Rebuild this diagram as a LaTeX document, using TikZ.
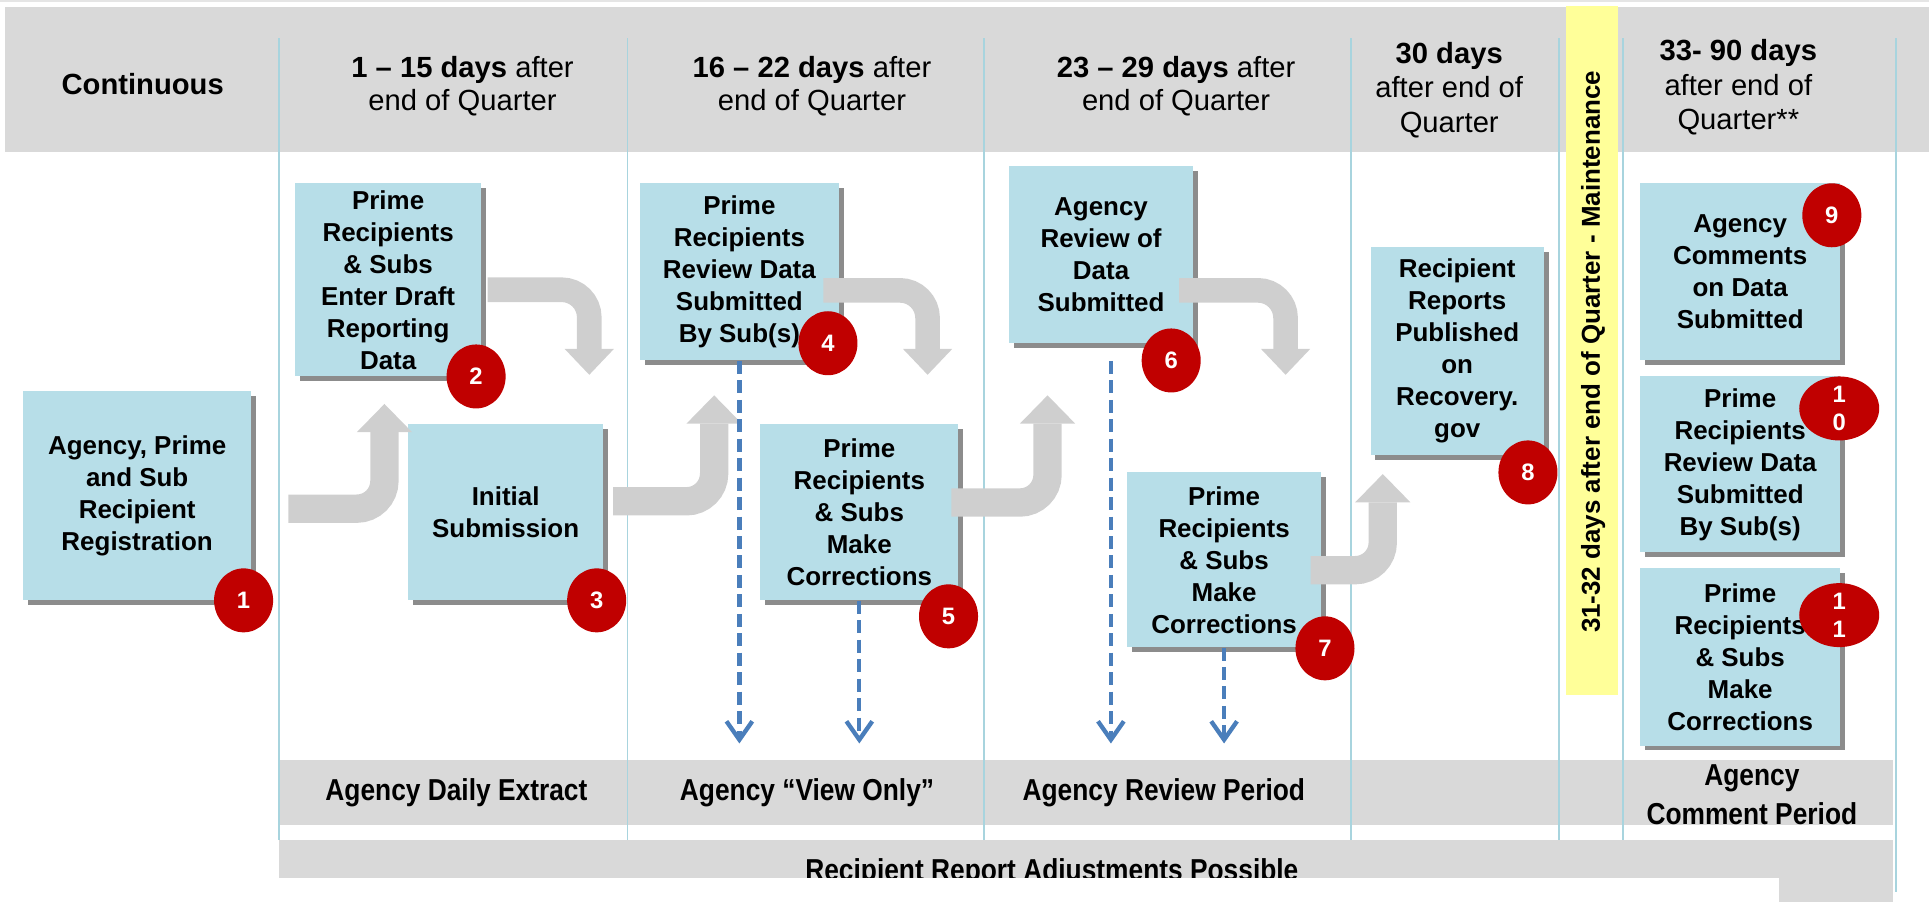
\documentclass[tikz,border=0pt]{standalone}
\usepackage{fontspec}
\setmainfont{Liberation Sans}
\newfontfamily\narrowsans{Liberation Sans}[FakeStretch=0.87]
\usetikzlibrary{arrows.meta,shapes.geometric,shadows}
\definecolor{headgray}{HTML}{D9D9D9}
\definecolor{boxblue}{HTML}{B7DEE8}
\definecolor{laneline}{HTML}{A8D4DE}
\definecolor{arrowgray}{HTML}{CFCFCF}
\definecolor{dashblue}{HTML}{4A7EBB}
\definecolor{numred}{HTML}{C00000}
\definecolor{maintyellow}{HTML}{FFFF99}

\begin{document}
\begin{tikzpicture}[
	stagebox/.style={fill=boxblue, align=center, inner sep=0pt, font=\bfseries\fontsize{12}{14.8}\selectfont, drop shadow={shadow xshift=0.08cm, shadow yshift=-0.08cm, fill=black!45, opacity=1}},
	numdot/.style={ellipse, fill=numred, text=white, align=center, inner sep=0pt, minimum width=0.96cm, minimum height=1.04cm, font=\bfseries\fontsize{11}{13}\selectfont},
	headtext/.style={align=center, font=\fontsize{13.5}{15}\selectfont},
	bandtext/.style={align=center, font=\narrowsans\bfseries\fontsize{14}{17.6}\selectfont},
	uparrow/.style={draw=arrowgray, line width=0.46cm, rounded corners=0.45cm, -{Triangle[width=0.9cm,length=0.46cm,line width=0pt]}},
	downarrow/.style={draw=arrowgray, line width=0.4cm, rounded corners=0.45cm, -{Triangle[width=0.8cm,length=0.42cm,line width=0pt]}},
	viewarrow/.style={draw=dashblue, line width=2pt, dash pattern=on 6pt off 3pt, -{Straight Barb[length=0.3cm,width=0.42cm]}}
	]
		\useasboundingbox (0,0) rectangle (31.36,14.66);
		
		\fill[black!10] (0,14.62) rectangle (31.36,14.66);
		\fill[headgray] (0.08,12.19) rectangle (31.36,14.55);
		\fill[headgray] (4.54,1.24) rectangle (30.78,2.30);
		\fill[maintyellow] (25.46,3.36) rectangle (26.30,14.56);
		
		\draw[laneline, line width=0.8pt] (4.54,14.04) -- (4.54,1.0);
		\draw[laneline, line width=0.8pt] (10.2,14.04) -- (10.2,1.0);
		\draw[laneline, line width=0.8pt] (16.0,14.04) -- (16.0,1.0);
		\draw[laneline, line width=0.8pt] (21.96,14.04) -- (21.96,1.0);
		\draw[laneline, line width=0.8pt] (25.34,14.04) -- (25.34,1.0);
		\draw[laneline, line width=0.8pt] (26.38,14.04) -- (26.38,1.0);
		\draw[laneline, line width=0.8pt] (30.82,14.04) -- (30.82,0.16);
		
		\fill[headgray] (4.54,0) rectangle (30.78,1.0);
		\node[bandtext, anchor=base] at (17.1,0.35) (adjust) {Recipient Report Adjustments Possible};
		\fill[white] (0,0) rectangle (28.92,0.38);
		
		\node[headtext, font=\bfseries\fontsize{13.5}{15}\selectfont] at (2.32,13.30) (hcont) {Continuous};
		\node[headtext] at (7.52,13.26) (h1) {\textbf{1 – 15 days} after\\end of Quarter};
		\node[headtext] at (13.2,13.26) (h2) {\textbf{16 – 22 days} after\\end of Quarter};
		\node[headtext] at (19.12,13.26) (h3) {\textbf{23 – 29 days} after\\end of Quarter};
		\node[headtext, font=\fontsize{13.5}{16}\selectfont] at (23.56,13.2) (h4) {\textbf{30 days}\\after end of\\Quarter};
		\node[headtext, font=\fontsize{13.5}{16}\selectfont] at (28.26,13.24) (h5) {\textbf{33- 90 days}\\after end of\\Quarter**};
		\node[rotate=90, font=\bfseries\fontsize{12}{14}\selectfont] at (25.9,8.94) (maint) {31-32 days after end of Quarter - Maintenance};
		
		\node[bandtext] at (7.42,1.78) (lbdaily) {Agency Daily Extract};
		\node[bandtext] at (13.12,1.78) (lbview) {Agency “View Only”};
		\node[bandtext] at (18.92,1.78) (lbreview) {Agency Review Period};
		\node[bandtext] at (28.48,1.74) (lbcomment) {Agency\\Comment Period};
		
		\node[stagebox, minimum width=3.7cm, minimum height=3.4cm] at (2.23,6.60) (b1) {Agency, Prime\\and Sub\\Recipient\\Registration};
		\node[stagebox, minimum width=3.02cm, minimum height=3.14cm] at (6.31,10.11) (b2) {Prime\\Recipients\\\& Subs\\Enter Draft\\Reporting\\Data};
		\node[stagebox, minimum width=3.16cm, minimum height=2.86cm] at (8.22,6.33) (b3) {Initial\\Submission};
		\node[stagebox, minimum width=3.24cm, minimum height=2.88cm] at (12.02,10.24) (b4) {Prime\\Recipients\\Review Data\\Submitted\\By Sub(s)};
		\node[stagebox, minimum width=3.22cm, minimum height=2.86cm] at (13.97,6.33) (b5) {Prime\\Recipients\\\& Subs\\Make\\Corrections};
		\node[stagebox, minimum width=3.0cm, minimum height=2.88cm] at (17.90,10.52) (b6) {Agency\\Review of\\Data\\Submitted};
		\node[stagebox, minimum width=3.16cm, minimum height=2.84cm] at (19.90,5.56) (b7) {Prime\\Recipients\\\& Subs\\Make\\Corrections};
		\node[stagebox, minimum width=2.82cm, minimum height=3.38cm] at (23.69,8.95) (b8) {Recipient\\Reports\\Published\\on\\Recovery.\\gov};
		\node[stagebox, minimum width=3.26cm, minimum height=2.88cm] at (28.29,10.24) (b9) {Agency\\Comments\\on Data\\Submitted};
		\node[stagebox, minimum width=3.26cm, minimum height=2.86cm] at (28.29,7.11) (b10) {Prime\\Recipients\\Review Data\\Submitted\\By Sub(s)};
		\node[stagebox, minimum width=3.26cm, minimum height=2.88cm] at (28.29,3.98) (b11) {Prime\\Recipients\\\& Subs\\Make\\Corrections};
		
		\draw[uparrow] ([xshift=6mm,yshift=-2.1mm]b1.east) -| ([xshift=-0.6mm,yshift=-4.4mm]b2.south);
		\draw[downarrow] ([xshift=1mm,yshift=-1.6mm]b2.east) -| ([xshift=13.6mm,yshift=8mm]b3.north);
		\draw[uparrow] ([xshift=1.6mm,yshift=1.8mm]b3.east) -| ([xshift=-4.1mm,yshift=-5.6mm]b4.south);
		\draw[downarrow] ([xshift=-2.6mm,yshift=-3mm]b4.east) -| ([xshift=11.1mm,yshift=8mm]b5.north);
		\draw[uparrow] ([xshift=-1.2mm,yshift=1.6mm]b5.east) -| ([xshift=-8.7mm,yshift=-8.4mm]b6.south);
		\draw[downarrow] ([xshift=-2.4mm,yshift=-5.8mm]b6.east) -| ([xshift=10mm,yshift=15.8mm]b7.north);
		\draw[uparrow] ([xshift=-1.8mm,yshift=-1.7mm]b7.east) -| ([xshift=-12.1mm,yshift=-3mm]b8.south);
		
		\draw[viewarrow] (b4.south) -- ++(0,-6.22);
		\draw[viewarrow] (b5.south) -- ++(0,-2.32);
		\draw[viewarrow] ([xshift=1.6mm,yshift=-2.8mm]b6.south) -- ++(0,-6.22);
		\draw[viewarrow] (b7.south) -- ++(0,-1.56);
		
		\node[numdot] at (3.96,4.90) (n1) {1};
		\node[numdot] at (7.74,8.54) (n2) {2};
		\node[numdot] at (9.70,4.90) (n3) {3};
		\node[numdot] at (13.46,9.08) (n4) {4};
		\node[numdot] at (15.42,4.64) (n5) {5};
		\node[numdot] at (19.04,8.80) (n6) {6};
		\node[numdot] at (21.54,4.12) (n7) {7};
		\node[numdot] at (24.84,6.98) (n8) {8};
		\node[numdot] at (29.78,11.16) (n9) {9};
		\node[numdot, minimum width=1.3cm] at (29.90,8.02) (n10) {1\\0};
		\node[numdot, minimum width=1.3cm] at (29.90,4.66) (n11) {1\\1};
	\end{tikzpicture}
\end{document}
